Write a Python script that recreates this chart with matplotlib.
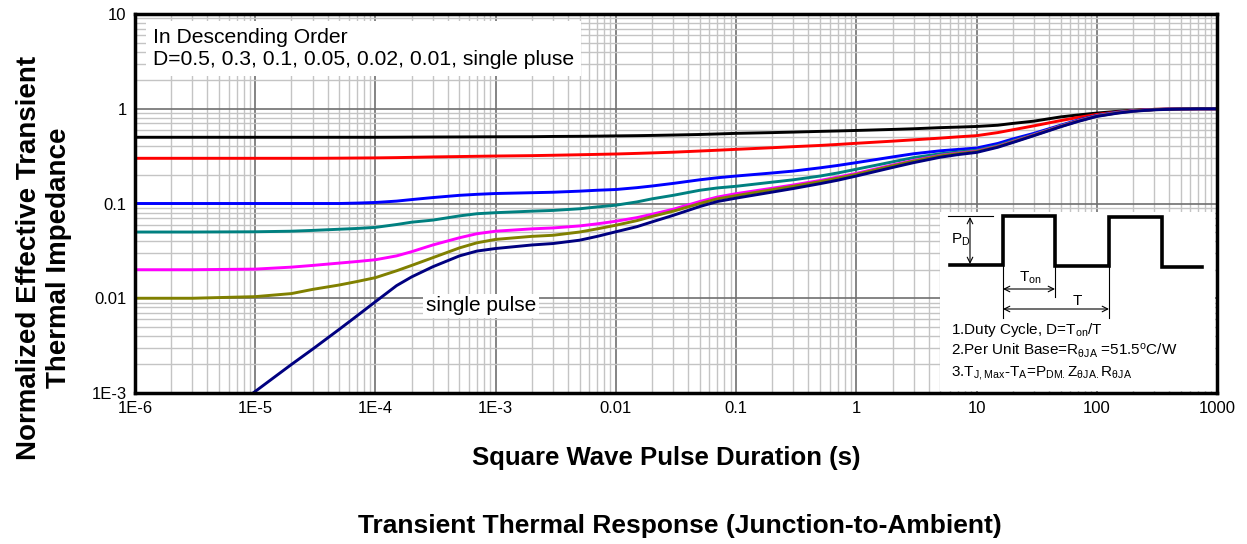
import matplotlib
matplotlib.use("Agg")

import numpy as np
import matplotlib.pyplot as plt
from matplotlib.ticker import FixedLocator, LogLocator, NullFormatter

plt.rcParams["font.family"] = ["Liberation Sans", "DejaVu Sans"]
plt.rcParams["mathtext.default"] = "regular"

# pulse duration (s)
t = [1e-6, 3e-6, 1e-5, 2e-5, 3e-5, 5e-5, 7e-5, 1e-4, 1.5e-4, 2e-4, 3e-4, 5e-4, 7e-4,
     1e-3, 2e-3, 3e-3, 5e-3, 7e-3, 1e-2, 1.5e-2, 2e-2, 3e-2, 5e-2, 7e-2,
     0.1, 0.2, 0.3, 0.5, 0.7, 1, 2, 3, 5, 7, 10, 15, 20, 30, 50, 70,
     100, 150, 200, 300, 500, 700, 1000]

# normalized transient thermal impedance, one list per duty cycle
z_d50 = [0.5, 0.5, 0.5, 0.5, 0.5, 0.5, 0.5, 0.5, 0.501, 0.502, 0.503, 0.504, 0.505,
         0.506, 0.507, 0.51, 0.512, 0.514, 0.517, 0.52, 0.523, 0.528, 0.535, 0.542,
         0.55, 0.56, 0.567, 0.577, 0.583, 0.59, 0.605, 0.615, 0.632, 0.64, 0.65, 0.67,
         0.7, 0.74, 0.82, 0.86, 0.9, 0.94, 0.96, 0.985, 0.997, 1.0, 1.0]
z_d30 = [0.3, 0.3, 0.3, 0.3, 0.3, 0.301, 0.302, 0.303, 0.305, 0.307, 0.31, 0.313, 0.315,
         0.317, 0.32, 0.323, 0.327, 0.33, 0.333, 0.338, 0.342, 0.348, 0.358, 0.365,
         0.373, 0.388, 0.398, 0.41, 0.42, 0.432, 0.455, 0.47, 0.49, 0.505, 0.52, 0.56,
         0.6, 0.66, 0.75, 0.81, 0.87, 0.925, 0.955, 0.985, 0.997, 1.0, 1.0]
z_d10 = [0.1, 0.1, 0.1, 0.1, 0.1, 0.1, 0.101, 0.1025, 0.106, 0.11, 0.1155, 0.122, 0.125,
         0.1275, 0.13, 0.1315, 0.135, 0.138, 0.1405, 0.147, 0.153, 0.163, 0.178, 0.187,
         0.195, 0.21, 0.22, 0.238, 0.252, 0.27, 0.31, 0.335, 0.36, 0.372, 0.385, 0.43,
         0.48, 0.55, 0.67, 0.76, 0.85, 0.92, 0.95, 0.98, 0.995, 1.0, 1.0]
z_d05 = [0.05, 0.05, 0.0503, 0.051, 0.052, 0.0535, 0.0545, 0.056, 0.06, 0.0635, 0.0668, 0.074, 0.078,
         0.08, 0.083, 0.0845, 0.088, 0.092, 0.096, 0.104, 0.112, 0.122, 0.138, 0.146,
         0.152, 0.168, 0.178, 0.195, 0.21, 0.23, 0.275, 0.305, 0.335, 0.35, 0.365, 0.41,
         0.46, 0.535, 0.66, 0.75, 0.845, 0.915, 0.95, 0.98, 0.995, 1.0, 1.0]
z_d02 = [0.02, 0.02, 0.0203, 0.0213, 0.0222, 0.0235, 0.0244, 0.0255, 0.028, 0.031, 0.0365, 0.0435, 0.048,
         0.051, 0.054, 0.0552, 0.058, 0.061, 0.065, 0.071, 0.077, 0.087, 0.105, 0.117,
         0.127, 0.145, 0.157, 0.175, 0.19, 0.208, 0.255, 0.285, 0.322, 0.34, 0.357, 0.402,
         0.45, 0.53, 0.655, 0.745, 0.84, 0.91, 0.95, 0.98, 0.995, 1.0, 1.0]
z_d01 = [0.01, 0.01, 0.0104, 0.0112, 0.0124, 0.0138, 0.015, 0.0165, 0.0195, 0.0222, 0.0268, 0.034, 0.0385,
         0.0418, 0.045, 0.0462, 0.05, 0.054, 0.059, 0.066, 0.073, 0.083, 0.1, 0.112,
         0.121, 0.14, 0.152, 0.17, 0.185, 0.203, 0.25, 0.28, 0.318, 0.336, 0.353, 0.398,
         0.445, 0.525, 0.65, 0.74, 0.835, 0.905, 0.945, 0.978, 0.995, 1.0, 1.0]

t_single = [9.6e-6, 2e-5, 3e-5, 5e-5, 7e-5, 1e-4, 1.5e-4, 2e-4, 3e-4, 5e-4, 7e-4,
            1e-3, 2e-3, 3e-3, 5e-3, 7e-3, 1e-2, 1.5e-2, 2e-2, 3e-2, 5e-2, 7e-2,
            0.1, 0.2, 0.3, 0.5, 0.7, 1, 2, 3, 5, 7, 10, 15, 20, 30, 50, 70,
            100, 150, 200, 300, 500, 700, 1000]
z_single = [0.001, 0.002, 0.0029, 0.0047, 0.0065, 0.0092, 0.0136, 0.0168, 0.0215, 0.028, 0.0315,
            0.0335, 0.0365, 0.0378, 0.041, 0.045, 0.0503, 0.057, 0.064, 0.075, 0.093, 0.105,
            0.114, 0.132, 0.144, 0.162, 0.176, 0.195, 0.24, 0.27, 0.308, 0.328, 0.346, 0.392,
            0.44, 0.52, 0.645, 0.735, 0.83, 0.9, 0.94, 0.975, 0.993, 1.0, 1.0]

curves = [
    (z_d50, "#000000"),
    (z_d30, "#FF0000"),
    (z_d10, "#0000FF"),
    (z_d05, "#008080"),
    (z_d02, "#FF00FF"),
    (z_d01, "#808000"),
]

x_ticks = [1e-6, 1e-5, 1e-4, 1e-3, 1e-2, 0.1, 1, 10, 100, 1000]
x_labels = ["1E-6", "1E-5", "1E-4", "1E-3", "0.01", "0.1", "1", "10", "100", "1000"]
y_ticks = [1e-3, 1e-2, 0.1, 1, 10]
y_labels = ["1E-3", "0.01", "0.1", "1", "10"]

W, H = 1247, 544
fig = plt.figure(figsize=(W / 100, H / 100), dpi=100)
ax = fig.add_axes([135 / W, 1 - 393 / H, (1217 - 135) / W, (393 - 14) / H])

for z, c in curves:
    ax.plot(t, z, color=c, lw=2.1, zorder=3)
ax.plot(t_single, z_single, color="#000080", lw=2.1, zorder=3)

ax.set_xscale("log")
ax.set_yscale("log")
ax.set_xlim(1e-6, 1000)
ax.set_ylim(1e-3, 10)

ax.xaxis.set_major_locator(FixedLocator(x_ticks))
ax.set_xticklabels(x_labels)
ax.yaxis.set_major_locator(FixedLocator(y_ticks))
ax.set_yticklabels(y_labels)
ax.xaxis.set_minor_locator(LogLocator(base=10, subs=np.arange(2, 10), numticks=20))
ax.yaxis.set_minor_locator(LogLocator(base=10, subs=np.arange(2, 10), numticks=20))
ax.xaxis.set_minor_formatter(NullFormatter())
ax.yaxis.set_minor_formatter(NullFormatter())

ax.grid(which="major", color="#707070", lw=1.2, zorder=0)
ax.grid(which="minor", color="#c4c4c4", lw=1.0, zorder=0)
ax.tick_params(which="both", direction="in", length=0, labelsize=12, pad=6)
for s in ax.spines.values():
    s.set_linewidth(2.5)
    s.set_zorder(5)

ax.text(0.0166, 0.962, "In Descending Order\nD=0.5, 0.3, 0.1, 0.05, 0.02, 0.01, single pluse",
        transform=ax.transAxes, ha="left", va="top", fontsize=15.2, linespacing=1.2,
        bbox=dict(facecolor="white", edgecolor="none", pad=5), zorder=4)

ax.text(7.55e-4, 0.0083, "single pulse", ha="center", va="center", fontsize=15,
        bbox=dict(facecolor="white", edgecolor="none", pad=2), zorder=4)

# duty-cycle sketch, laid out in pixel units of its own little axes
ins = fig.add_axes([940 / W, 1 - 391 / H, (1215 - 940) / W, (391 - 212) / H])
ins.set_xlim(940, 1215)
ins.set_ylim(391, 212)
ins.set_facecolor("white")
ins.set_xticks([])
ins.set_yticks([])
for s in ins.spines.values():
    s.set_visible(False)

wave_x = [950, 1003, 1003, 1055, 1055, 1109, 1109, 1162, 1162, 1202]
wave_y = [265, 265, 216, 216, 266, 266, 217, 217, 267, 267]
ins.plot(wave_x, wave_y, color="black", lw=2.6, solid_joinstyle="miter")
ins.plot([948, 993], [216, 216], color="black", lw=0.8)
for xv, yb in [(1003, 318), (1055, 297), (1109, 318)]:
    ins.plot([xv, xv], [266, yb], color="black", lw=0.8)

arr = dict(arrowstyle="<->", color="black", lw=0.8, shrinkA=0, shrinkB=0)
ins.annotate("", xy=(970, 217), xytext=(970, 264), arrowprops=arr)
ins.annotate("", xy=(1003, 289), xytext=(1055, 289), arrowprops=arr)
ins.annotate("", xy=(1003, 309), xytext=(1109, 309), arrowprops=arr)
ins.text(951, 240, "P$_D$", fontsize=11, ha="left", va="center")
ins.text(1019, 278, "T$_{on}$", fontsize=11, ha="left", va="center")
ins.text(1077, 301, "T", fontsize=11, ha="center", va="center")
ins.text(951, 330, "1.Duty Cycle, D=T$_{on}$/T", fontsize=11, ha="left", va="center")
ins.text(951, 351, "2.Per Unit Base=R$_{\\theta JA}$ =51.5$^{o}$C/W", fontsize=11,
         ha="left", va="center")
ins.text(951, 373, "3.T$_{J,Max}$-T$_A$=P$_{DM.}$Z$_{\\theta JA.}$R$_{\\theta JA}$",
         fontsize=11, ha="left", va="center")

fig.text(44 / W, 1 - 258 / H, "Normalized Effective Transient\nThermal Impedance",
         rotation=90, ha="center", va="center", fontsize=20, fontweight="bold",
         multialignment="center", linespacing=1.2)
fig.text(666 / W, 1 - 458 / H, "Square Wave Pulse Duration (s)", ha="center", va="center",
         fontsize=18.5, fontweight="bold")
fig.text(680 / W, 1 - 526 / H, "Transient Thermal Response (Junction-to-Ambient)",
         ha="center", va="center", fontsize=19, fontweight="bold")

fig.savefig("out.png", dpi=100)
